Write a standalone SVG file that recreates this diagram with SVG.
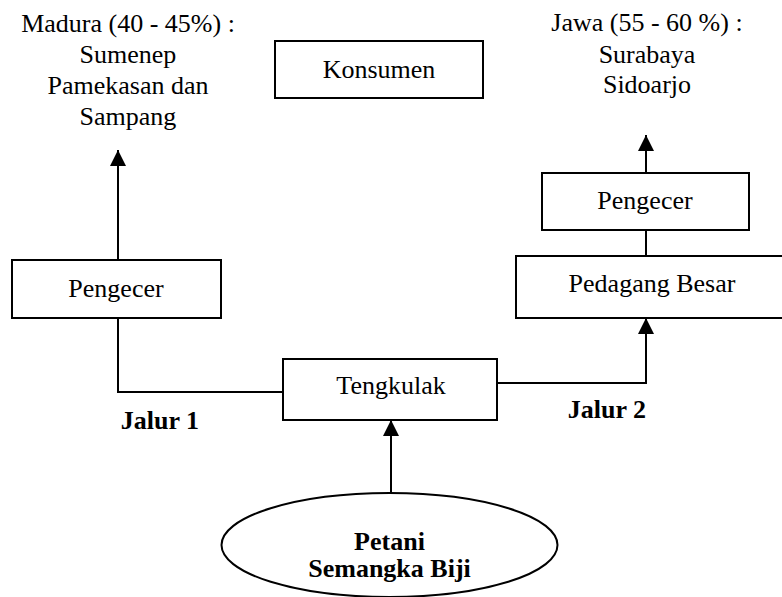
<svg xmlns="http://www.w3.org/2000/svg" width="782" height="597" viewBox="0 0 782 597">
<style>
.t{font-size:26px;fill:#000;text-anchor:middle}
.b{font-weight:bold}
.box{fill:#fff;stroke:#000;stroke-width:2}
.ln{fill:none;stroke:#000;stroke-width:2}
</style>
<defs>
<marker id="ah" markerWidth="16" markerHeight="16" refX="16" refY="8" orient="auto" markerUnits="userSpaceOnUse">
<path d="M0,0 L16,8 L0,16 Z" fill="#000"/>
</marker>
</defs>
<rect width="782" height="597" fill="#fff"/>
<g id="connectors">
<line class="ln" x1="118" y1="260" x2="118" y2="150" marker-end="url(#ah)"/>
<polyline class="ln" points="118,318 118,392 283,392"/>
<polyline class="ln" points="497,383 646,383 646,318" marker-end="url(#ah)"/>
<line class="ln" x1="646" y1="256" x2="646" y2="230"/>
<line class="ln" x1="646" y1="173" x2="646" y2="135" marker-end="url(#ah)"/>
<line class="ln" x1="391" y1="493" x2="391" y2="420" marker-end="url(#ah)"/>
</g>
<g class="t" font-family="Liberation Serif, serif">
<g id="madura">
<text x="128" y="32">Madura (40 - 45%) :</text>
<text x="128" y="63">Sumenep</text>
<text x="128" y="94">Pamekasan dan</text>
<text x="128" y="125">Sampang</text>
</g>
<g id="jawa">
<text x="647" y="31">Jawa (55 - 60 %) :</text>
<text x="647" y="63">Surabaya</text>
<text x="647" y="93">Sidoarjo</text>
</g>
<g id="konsumen">
<rect class="box" x="275" y="41" width="208" height="57"/>
<text x="379" y="78">Konsumen</text>
</g>
<g id="pengecer1">
<rect class="box" x="12" y="260" width="209" height="58"/>
<text x="116" y="297">Pengecer</text>
</g>
<g id="pengecer2">
<rect class="box" x="542" y="173" width="207" height="57"/>
<text x="645" y="209">Pengecer</text>
</g>
<g id="pedagang">
<rect class="box" x="516" y="256" width="274" height="62"/>
<text x="652" y="292">Pedagang Besar</text>
</g>
<g id="tengkulak">
<rect class="box" x="283" y="359" width="214" height="61"/>
<text x="391" y="394">Tengkulak</text>
</g>
<g id="jalur1"><text class="b" x="160" y="429">Jalur 1</text></g>
<g id="jalur2"><text class="b" x="607" y="418">Jalur 2</text></g>
<g id="petani">
<ellipse class="box" cx="389.5" cy="545" rx="168" ry="52"/>
<text class="b" x="389.5" y="550">Petani</text>
<text class="b" x="389.5" y="577">Semangka Biji</text>
</g>
</g>
</svg>
